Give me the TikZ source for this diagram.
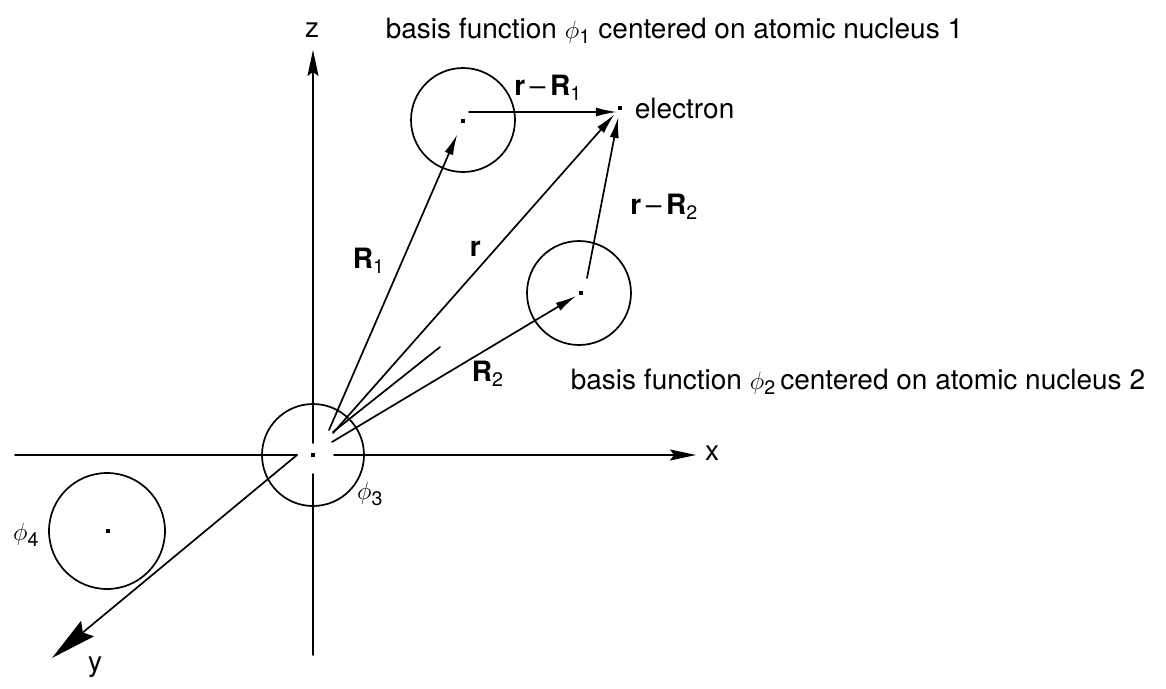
\documentclass[tikz,border=0pt]{standalone}
\usepackage{fontspec}
\setmainfont{TeX Gyre Heros}
\usetikzlibrary{arrows.meta,calc}

\begin{document}
\begin{tikzpicture}[x=1pt,y=-1pt,line cap=round,line join=round,line width=1.7pt,
  orbital/.style={draw,circle,inner sep=0pt,minimum size=#1},
  nucleus/.style={fill,inner sep=0pt,minimum size=4.5pt},
  vecarrow/.style={-{Latex[length=21pt,width=9pt]}},
  axisarrow/.style={-{Stealth[length=26pt,width=11pt,inset=4pt]}},
  lbl/.style={font=\fontsize{28}{32}\selectfont,inner sep=0pt}]
  \useasboundingbox (0,0) rectangle (1166,688);

  % Origin and the axes, broken round the origin.
  \coordinate (O) at (313,455);
  \coordinate (zbot) at (313,655);
  \coordinate (ztop) at (313,50);
  \coordinate (xleft) at (15,455);
  \coordinate (xtip) at (696,455);
  \coordinate (ytip) at (52,658);
  \draw (zbot) -- ($(O)+(0,19)$);
  \draw[axisarrow] ($(O)+(0,-12)$) -- (ztop);
  \draw (xleft) -- ($(O)+(-16,0)$);
  \draw[axisarrow] ($(O)+(21,0)$) -- (xtip);
  \draw[-{Stealth[length=46pt,width=20pt,inset=6pt]}] ($(O)+(-16,0)$) -- (ytip);
  \node[lbl] (zlbl) at (312,30) {z};
  \node[lbl] (xlbl) at (712,453) {x};
  \node[lbl] (ylbl) at (95,667) {y};

  % Nuclei, basis functions and the electron.
  \node[nucleus] (c1) at (463,121) {};
  \node[nucleus] (c2) at (581,293) {};
  \node[nucleus] (c3) at (O) {};
  \node[nucleus] (c4) at (108,531) {};
  \node[nucleus] (el) at (620,108) {};
  \node[orbital=104pt] (phi1) at (463,120) {};
  \node[orbital=104pt] (phi2) at (579,293) {};
  \node[orbital=102pt] (phi3) at (O) {};
  \node[orbital=116pt] (phi4) at (107,531) {};

  % Position vectors from near the origin.
  \coordinate (sR1) at (329,430);
  \coordinate (sr) at (333,433);
  \coordinate (sR2) at (332,442);
  \coordinate (saux) at (333,432);
  \coordinate (eaux) at (440,347);
  \coordinate (srR1) at (469,112);
  \coordinate (srR2) at (587,278);
  \draw[vecarrow,shorten >=11pt] (sR1) -- (c1);
  \draw[vecarrow,shorten >=4pt] (sr) -- (el);
  \draw[vecarrow,shorten >=2pt] (sR2) -- (c2);
  \draw (saux) -- (eaux);
  \draw[vecarrow] (srR1) -- (srR1 -| el.west);
  \draw[vecarrow,shorten >=6pt] (srR2) -- (el);

  % Labels.
  \node[lbl,anchor=base west] (R1lbl) at (352,268) {\textbf{R}\textsubscript{1}};
  \node[lbl,anchor=base west] (rlbl) at (469,256) {\textbf{r}};
  \node[lbl,anchor=base west] (R2lbl) at (471,381) {\textbf{R}\textsubscript{2}};
  \node[lbl,anchor=base] (rR1lbl) at (548,95) {\textbf{r}\,--\,\textbf{R}\textsubscript{1}};
  \node[lbl,anchor=base] (rR2lbl) at (664,214) {\textbf{r}\,--\,\textbf{R}\textsubscript{2}};
  \node[lbl,anchor=base west] (ellbl) at (634,118) {electron};
  \node[lbl] (phi3lbl) at (370,494) {$\phi$\textsubscript{3}};
  \node[lbl] (phi4lbl) at (26,535) {$\phi$\textsubscript{4}};
  \node[lbl,anchor=base west] (top) at (385,38)
    {basis function $\phi$\textsubscript{1} centered on atomic nucleus 1};
  \node[lbl,anchor=base west] (bottom) at (570,389)
    {basis function $\phi$\textsubscript{2}\,centered on atomic nucleus 2};
\end{tikzpicture}
\end{document}
